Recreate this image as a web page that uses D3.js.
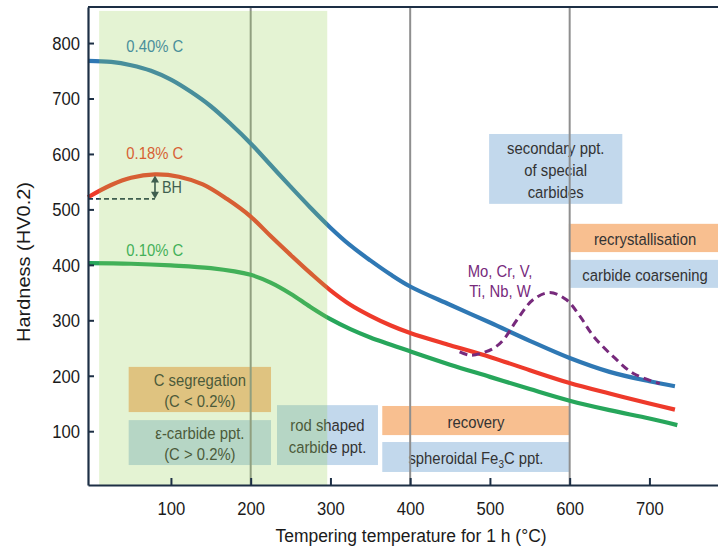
<!DOCTYPE html>
<html><head><meta charset="utf-8">
<script src="https://cdn.jsdelivr.net/npm/d3@7/dist/d3.min.js"></script>
<style>
html,body{margin:0;padding:0;background:#fff;}
svg{display:block;font-family:"Liberation Sans",Arial,Helvetica,sans-serif;}
</style></head>
<body>
<svg id="chart" width="718" height="548"></svg>
<script>
// ---------- data ----------
const xTicks = [100, 200, 300, 400, 500, 600, 700];
const yTicks = [100, 200, 300, 400, 500, 600, 700, 800];
const dividerTemps = [200, 400, 600];

const blueT = [-4, 25, 50, 75, 100, 125, 150, 175, 200, 225, 250, 275, 300, 325, 350, 375, 400, 450, 500, 550, 600, 650, 700, 732];
const blueV = [768, 766, 760, 750, 734, 712, 686, 654, 619, 580, 541, 503, 467, 435, 408, 383, 361, 328, 296, 263, 232, 207, 190, 181];

const redT = [-4, 25, 50, 80, 110, 140, 170, 200, 225, 250, 275, 300, 325, 350, 375, 400, 450, 500, 550, 600, 650, 700, 732];
const redV = [522, 544, 557, 563, 559, 545, 519, 487, 452, 418, 385, 354, 328, 308, 291, 277, 255, 234, 210, 187, 168, 150, 139];

const greenT = [-4, 50, 100, 150, 200, 225, 250, 275, 300, 325, 350, 400, 450, 500, 550, 600, 650, 700, 735];
const greenV = [403, 402, 399, 394, 382, 368, 348, 324, 302, 284, 269, 244, 220, 198, 176, 155, 138, 123, 111];

const alloyT = [462, 475, 490, 505, 517, 534, 554, 575, 596, 613, 630, 655, 680, 713];
const alloyV = [243, 237, 241, 250, 265, 301, 337, 350, 337, 307, 271, 234, 204, 186];

const seriesLabels = ["0.40% C", "0.18% C", "0.10% C"];
const seriesColors = ["#2f78b4", "#ee3a2b", "#27a65b"];
const labelAnchorT = 44;
const labelAnchorV = [784, 590, 416];

const bhTemp = 80, bhTop = 563, bhBase = 519;

// shaded low-temperature range
const zoneRange = [10, 296], zoneTop = 858;

// process boxes
const boxT0 = [47, 47, 233, 365, 365, 499, 599, 599];
const boxT1 = [225.5, 225.5, 359.6, 600, 600, 666, 790, 790];
const boxVtop = [216, 120, 147, 145.5, 80.5, 636, 474, 409];
const boxVbot = [134.5, 39, 39, 93, 26.5, 510, 423, 358.5];
const boxKind = ["o", "b", "b", "o", "b", "b", "o", "b"];
const boxLines = [
  ["C segregation", "(C < 0.2%)"],
  ["\u03b5-carbide ppt.", "(C > 0.2%)"],
  ["rod shaped", "carbide ppt."],
  ["recovery"],
  ["spheroidal Fe|3|C ppt."],
  ["secondary ppt.", "of special", "carbides"],
  ["recrystallisation"],
  ["carbide coarsening"]
];
const alloyLabel = ["Mo, Cr, V,", "Ti, Nb, W"];

// ---------- drawing ----------
const svg = d3.select("#chart");
const x = d3.scaleLinear().domain([-4, 786]).range([88, 718]);
const y = d3.scaleLinear().domain([3, 865]).range([485, 7]);
const axisColor = "#1d2f45";
const SX = 0.9;

function txt(g, px, py, s, size, color, anchor) {
  return g.append("text")
    .attr("transform", `translate(${px},${py}) scale(${SX},1)`)
    .attr("font-size", size).attr("fill", color)
    .attr("text-anchor", anchor || "middle").text(s);
}

const gBoxes = svg.append("g");
const fillFor = k => k === "o" ? "#f8bf90" : "#c2d8ec";
boxLines.forEach((lines, i) => {
  const x0 = x(boxT0[i]), x1 = x(boxT1[i]);
  const y0 = y(boxVtop[i]), y1 = y(boxVbot[i]);
  gBoxes.append("rect").attr("x", x0).attr("y", y0)
    .attr("width", x1 - x0).attr("height", y1 - y0).attr("fill", fillFor(boxKind[i]));
  const cx = (x0 + x1) / 2, cy = (y0 + y1) / 2, lh = 21.6;
  lines.forEach((ln, j) => {
    const by = cy + (j - (lines.length - 1) / 2) * lh + 7;
    if (ln.includes("|")) {
      const parts = ln.split("|");
      const t = gBoxes.append("text")
        .attr("transform", `translate(${cx},${by}) scale(${SX},1)`)
        .attr("font-size", 16.5).attr("fill", "#333").attr("text-anchor", "middle");
      t.append("tspan").text(parts[0]);
      t.append("tspan").attr("font-size", 11).attr("dy", 4).text(parts[1]);
      t.append("tspan").attr("dy", -4).text(parts[2]);
    } else {
      txt(gBoxes, cx, by, ln, 16.5, "#333");
    }
  });
});

// divider lines
svg.append("g").selectAll("line").data(dividerTemps).join("line")
  .attr("x1", d => x(d)).attr("x2", d => x(d))
  .attr("y1", y(865)).attr("y2", y(3))
  .attr("stroke", "#8f8f8f").attr("stroke-width", 2);

// curves
const line = d3.line().x(d => x(d[0])).y(d => y(d[1])).curve(d3.curveCatmullRom.alpha(0.5));
const series = [
  d3.zip(blueT, blueV),
  d3.zip(redT, redV),
  d3.zip(greenT, greenV)
];
const gCurves = svg.append("g");
series.forEach((s, i) => {
  gCurves.append("path").attr("d", line(s)).attr("fill", "none")
    .attr("stroke", seriesColors[i]).attr("stroke-width", 4.2);
});
gCurves.append("path").attr("d", line(d3.zip(alloyT, alloyV))).attr("fill", "none")
  .attr("stroke", "#772a7c").attr("stroke-width", 3).attr("stroke-dasharray", "8,5");

// series labels
seriesLabels.forEach((s, i) => {
  txt(svg, x(labelAnchorT), y(labelAnchorV[i]), s, 16.5, seriesColors[i], "start");
});
alloyLabel.forEach((s, i) => {
  txt(svg, 500, 277 + i * 19.5, s, 16.5, "#772a7c");
});

// BH annotation
const bh = svg.append("g");
bh.append("line").attr("x1", x(-4)).attr("x2", x(bhTemp)).attr("y1", y(bhBase)).attr("y2", y(bhBase))
  .attr("stroke", "#23394f").attr("stroke-width", 1.6).attr("stroke-dasharray", "5,3");
const ax = x(bhTemp), ay0 = y(bhTop) + 1, ay1 = y(bhBase);
bh.append("line").attr("x1", ax).attr("x2", ax).attr("y1", ay0 + 5).attr("y2", ay1 - 5)
  .attr("stroke", "#23394f").attr("stroke-width", 1.6);
bh.append("path").attr("d", `M${ax},${ay0} l-4,7 h8 z`).attr("fill", "#23394f");
bh.append("path").attr("d", `M${ax},${ay1} l-4,-7 h8 z`).attr("fill", "#23394f");
txt(bh, ax + 7, (ay0 + ay1) / 2 + 6, "BH", 16, "#23394f", "start");

// translucent green overlay
svg.append("rect").attr("x", x(zoneRange[0])).attr("y", y(zoneTop))
  .attr("width", x(zoneRange[1]) - x(zoneRange[0])).attr("height", y(3) - y(zoneTop))
  .attr("fill", "#92d050").attr("opacity", 0.25);

// axes
const gx = svg.append("g").attr("transform", `translate(0,${y(3)})`)
  .call(d3.axisBottom(x).tickValues(xTicks).tickSize(-7).tickSizeOuter(0).tickPadding(4));
const gy = svg.append("g").attr("transform", `translate(${x(-4)},0)`)
  .call(d3.axisLeft(y).tickValues(yTicks).tickSize(-6).tickSizeOuter(0).tickPadding(8));
[gx, gy].forEach(g => {
  g.select(".domain").attr("stroke", axisColor).attr("stroke-width", 2.2);
  g.selectAll(".tick line").attr("stroke", axisColor).attr("stroke-width", 2);
  g.selectAll(".tick text").attr("font-size", 18.5).attr("fill", "#1a1a1a")
    .attr("font-family", "'Liberation Sans', Arial, sans-serif");
});
gx.selectAll(".tick text").attr("dy", null).attr("y", null)
  .attr("transform", `translate(0,30) scale(${SX},1)`);
gy.selectAll(".tick text").attr("x", null).attr("dy", null)
  .attr("transform", `translate(-8,6.5) scale(${SX},1)`);
// top frame
svg.append("line").attr("x1", x(-4)).attr("x2", 718).attr("y1", y(865)).attr("y2", y(865))
  .attr("stroke", axisColor).attr("stroke-width", 2.2);

// axis titles
svg.append("text").attr("transform", `translate(411,542) scale(0.92,1)`)
  .attr("text-anchor", "middle").attr("font-size", 19).attr("fill", "#1a1a1a")
  .text("Tempering temperature for 1 h (\u00b0C)");
svg.append("text").attr("transform", `translate(30,262) rotate(-90) scale(1,0.9)`)
  .attr("text-anchor", "middle").attr("font-size", 20).attr("fill", "#1a1a1a")
  .text("Hardness (HV0.2)");
</script>
</body></html>
